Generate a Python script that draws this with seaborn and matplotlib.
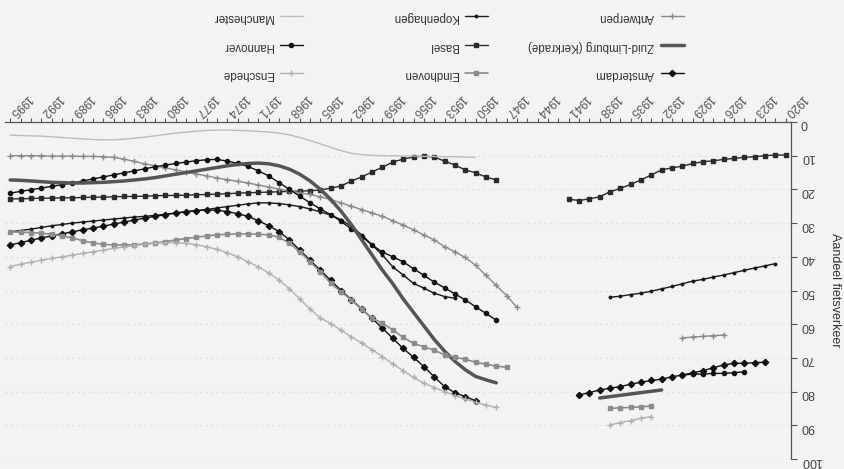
import matplotlib
matplotlib.use("Agg")
import matplotlib.pyplot as plt
from matplotlib.ticker import MultipleLocator
import seaborn as sns

# share of cycling in city traffic (%), read off the (upside-down) scan
# --- before the war ---
basel_pre_years = list(range(1920, 1942))
basel_pre = [9.8, 9.8, 10.0, 10.3, 10.5, 10.8, 11.1, 11.5, 11.8, 12.3, 13.1,
             13.6, 14.2, 15.7, 17.2, 18.5, 19.7, 20.7, 22.2, 22.8, 23.3, 22.9]
kopenhagen_pre_years = list(range(1921, 1938))
kopenhagen_pre = [42.0, 42.7, 43.3, 44.0, 44.7, 45.4, 46.0, 46.7, 47.2, 48.0,
                  48.8, 49.5, 50.2, 50.8, 51.2, 51.7, 52.0]
antwerpen_pre_years = list(range(1926, 1931))
antwerpen_pre = [63.2, 63.4, 63.6, 63.8, 64.1]
amsterdam_pre_years = list(range(1922, 1941))
amsterdam_pre = [71.3, 71.4, 71.6, 71.6, 72.1, 72.9, 73.8, 74.4, 75.1, 75.6,
                 76.3, 76.7, 77.2, 77.8, 78.5, 79.0, 79.5, 80.3, 81.0]
hannover_pre_years = list(range(1924, 1931))
hannover_pre = [74.1, 74.4, 74.6, 74.6, 74.8, 74.8, 75.1]
zuidlimburg_pre_years = list(range(1932, 1939))
zuidlimburg_pre = [79.5, 79.9, 80.3, 80.7, 81.1, 81.5, 81.9]
eindhoven_pre_years = list(range(1933, 1938))
eindhoven_pre = [84.3, 84.5, 84.7, 84.8, 85.0]
enschede_pre_years = list(range(1933, 1938))
enschede_pre = [87.4, 87.9, 88.6, 89.2, 89.9]

# --- after the war ---
antwerpen_post_years = list(range(1946, 1996))
antwerpen_post = [55.0, 51.5, 48.5, 45.5, 42.5, 40.2, 38.5, 37.0, 35.0, 33.5,
                  32.0, 30.6, 29.3, 28.0, 27.0, 26.0, 25.0, 24.0, 23.0, 22.2,
                  21.5, 21.0, 20.4, 19.9, 19.3, 18.7, 18.1, 17.6, 17.1, 16.6,
                  16.0, 15.4, 14.8, 14.2, 13.6, 13.0, 12.4, 11.7, 11.0, 10.5,
                  10.3, 10.2, 10.2, 10.1, 10.1, 10.1, 10.0, 10.0, 10.0, 10.0]
basel_post_years = list(range(1948, 1996))
basel_post = [17.2, 16.3, 15.1, 14.2, 12.8, 11.6, 10.4, 10.1, 10.4, 11.0,
              11.9, 13.4, 14.8, 16.3, 17.5, 19.0, 19.6, 20.2, 20.4, 20.5,
              20.6, 20.7, 20.8, 20.9, 21.0, 21.1, 21.3, 21.4, 21.5, 21.6,
              21.7, 21.8, 21.8, 21.9, 22.0, 22.1, 22.1, 22.2, 22.3, 22.3,
              22.4, 22.5, 22.5, 22.6, 22.6, 22.7, 22.8, 22.8]
manchester_years = list(range(1950, 1996))
manchester = [10.5, 10.4, 10.3, 10.3, 10.2, 10.2, 10.1, 10.1, 10.0, 10.0,
              9.9, 9.7, 9.3, 8.5, 7.5, 6.5, 5.5, 4.6, 3.8, 3.3,
              3.0, 2.8, 2.6, 2.5, 2.4, 2.4, 2.5, 2.7, 3.0, 3.3,
              3.7, 4.1, 4.5, 4.8, 5.1, 5.3, 5.3, 5.2, 5.0, 4.8,
              4.6, 4.4, 4.2, 4.1, 4.0, 3.9]
hannover_post_years = list(range(1948, 1996))
hannover_post = [58.8, 56.8, 54.8, 52.8, 51.0, 49.2, 47.5, 45.5, 43.5, 41.5,
                 40.0, 38.6, 36.5, 34.0, 31.8, 29.5, 27.5, 25.8, 24.0, 22.0,
                 20.0, 18.0, 16.0, 14.5, 13.2, 12.3, 11.6, 11.1, 11.2, 11.5,
                 11.9, 12.3, 12.8, 13.3, 13.9, 14.5, 15.1, 15.7, 16.3, 16.9,
                 17.5, 18.1, 18.6, 19.1, 19.6, 20.1, 20.6, 21.1]
kopenhagen_post_years = list(range(1952, 1996))
kopenhagen_post = [52.3, 51.8, 50.8, 49.3, 47.9, 45.4, 43.0, 39.5, 36.5, 33.5,
                   31.0, 29.0, 27.6, 26.7, 25.8, 25.1, 24.6, 24.2, 24.0, 24.0,
                   24.3, 24.7, 25.1, 25.5, 26.0, 26.3, 26.7, 27.0, 27.4, 27.7,
                   28.0, 28.2, 28.5, 28.8, 29.1, 29.4, 29.7, 30.0, 30.4, 30.8,
                   31.3, 31.8, 32.2, 32.6]
amsterdam_post_years = list(range(1950, 1996))
amsterdam_post = [82.7, 81.5, 80.3, 78.5, 75.6, 72.6, 69.8, 67.2, 64.2, 61.2,
                  58.3, 55.5, 52.7, 50.0, 47.0, 44.0, 41.0, 38.0, 35.0, 32.5,
                  30.8, 29.3, 28.0, 27.2, 26.6, 26.2, 26.1, 26.3, 26.6, 27.0,
                  27.5, 28.0, 28.5, 29.1, 29.7, 30.3, 30.9, 31.5, 32.0, 32.6,
                  33.2, 33.8, 34.4, 35.1, 35.8, 36.5]
zuidlimburg_post_years = list(range(1948, 1996))
zuidlimburg_post = [77.4, 76.5, 75.5, 73.5, 71.0, 68.0, 64.5, 60.5, 56.5, 52.5,
                    48.0, 44.0, 39.5, 35.0, 30.5, 26.5, 23.0, 20.0, 17.5, 15.5,
                    14.0, 13.0, 12.4, 12.2, 12.3, 12.6, 13.0, 13.5, 14.0, 14.5,
                    15.0, 15.5, 16.0, 16.5, 16.9, 17.2, 17.5, 17.7, 17.9, 18.0,
                    18.1, 18.1, 18.0, 17.9, 17.7, 17.5, 17.3, 17.2]
eindhoven_post_years = list(range(1947, 1996))
eindhoven_post = [72.8, 72.4, 71.9, 71.3, 70.4, 69.8, 69.1, 67.7, 66.7, 65.7,
                  63.9, 61.7, 59.7, 58.2, 55.6, 52.8, 50.4, 47.9, 44.4, 41.5,
                  38.5, 36.0, 34.2, 33.5, 33.3, 33.2, 33.2, 33.3, 33.5, 33.8,
                  34.2, 34.6, 35.0, 35.5, 35.9, 36.2, 36.4, 36.5, 36.5, 36.3,
                  35.9, 35.2, 34.4, 33.8, 33.3, 33.0, 32.8, 32.7, 32.6]
enschede_post_years = list(range(1948, 1996))
enschede_post = [84.7, 84.0, 83.2, 82.2, 81.2, 80.0, 78.8, 77.5, 75.8, 73.8,
                 71.8, 69.6, 67.6, 65.6, 63.8, 61.8, 59.8, 58.2, 55.5, 52.5,
                 49.5, 46.9, 44.8, 43.0, 41.5, 40.0, 38.8, 37.8, 37.0, 36.4,
                 36.0, 35.8, 35.8, 36.0, 36.3, 36.7, 37.1, 37.5, 38.0, 38.5,
                 39.0, 39.5, 40.0, 40.5, 41.0, 41.6, 42.2, 42.9]

year_ticks = list(range(1920, 1996, 3))

segments = [
    ("Basel", basel_pre_years, basel_pre),
    ("Basel", basel_post_years, basel_post),
    ("Kopenhagen", kopenhagen_pre_years, kopenhagen_pre),
    ("Kopenhagen", kopenhagen_post_years, kopenhagen_post),
    ("Antwerpen", antwerpen_pre_years, antwerpen_pre),
    ("Antwerpen", antwerpen_post_years, antwerpen_post),
    ("Amsterdam", amsterdam_pre_years, amsterdam_pre),
    ("Amsterdam", amsterdam_post_years, amsterdam_post),
    ("Hannover", hannover_pre_years, hannover_pre),
    ("Hannover", hannover_post_years, hannover_post),
    ("Zuid-Limburg (Kerkrade)", zuidlimburg_pre_years, zuidlimburg_pre),
    ("Zuid-Limburg (Kerkrade)", zuidlimburg_post_years, zuidlimburg_post),
    ("Eindhoven", eindhoven_pre_years, eindhoven_pre),
    ("Eindhoven", eindhoven_post_years, eindhoven_post),
    ("Enschede", enschede_pre_years, enschede_pre),
    ("Enschede", enschede_post_years, enschede_post),
    ("Manchester", manchester_years, manchester),
]

styles = {
    "Antwerpen": dict(color="#8a8a8a", lw=1.0, marker="+", ms=5),
    "Zuid-Limburg (Kerkrade)": dict(color="#555555", lw=2.5, marker=None, ms=0),
    "Amsterdam": dict(color="#111111", lw=1.0, marker="D", ms=3.2),
    "Kopenhagen": dict(color="#1a1a1a", lw=1.0, marker="o", ms=1.8),
    "Basel": dict(color="#2b2b2b", lw=1.0, marker="s", ms=3),
    "Eindhoven": dict(color="#8c8c8c", lw=1.2, marker="s", ms=3.5),
    "Manchester": dict(color="#bdbdbd", lw=1.0, marker=None, ms=0),
    "Hannover": dict(color="#111111", lw=1.0, marker="o", ms=3),
    "Enschede": dict(color="#b0b0b0", lw=1.0, marker="+", ms=4.5),
}

sns.set_theme(style="white")
plt.rcParams['font.family'] = ['Liberation Sans', 'DejaVu Sans']

bg = "#f3f3f3"
fig = plt.figure(figsize=(8.44, 4.69), dpi=100, facecolor=bg)
# the scan is upside down: axes are inverted and all text turned 180 degrees
ax = fig.add_axes([5 / 844, 10 / 469, 786 / 844, 337 / 469])
ax.set_facecolor(bg)

seen = set()
for name, yrs, vals in segments:
    st = styles[name]
    lab = name if name not in seen else None
    seen.add(name)
    sns.lineplot(x=yrs, y=vals, ax=ax, color=st["color"], linewidth=st["lw"],
                 marker=st["marker"], markersize=st["ms"], markeredgecolor=st["color"],
                 markerfacecolor=st["color"], markeredgewidth=1.0, label=lab)

if ax.get_legend() is not None:
    ax.get_legend().remove()

ax.set_xlim(1995.5, 1919.5)
ax.set_ylim(100, 0)

ax.spines["left"].set_visible(False)
ax.spines["bottom"].set_visible(False)
for s in ("top", "right"):
    ax.spines[s].set_color("#555555")
    ax.spines[s].set_linewidth(0.9)

ax.set_xticks(year_ticks)
ax.xaxis.set_minor_locator(MultipleLocator(1))
ax.yaxis.set_major_locator(MultipleLocator(10))
ax.tick_params(axis="x", which="both", top=True, bottom=False, labeltop=True,
               labelbottom=False, direction="out", length=3, width=0.8,
               color="#555555", labelsize=8.5, labelcolor="#555555", pad=2)
ax.tick_params(axis="y", left=False, right=True, labelleft=False, labelright=True,
               direction="out", length=4, width=0.8, color="#555555",
               labelsize=9, labelcolor="#444444", pad=3, labelrotation=180)
for lbl in ax.get_xticklabels():
    lbl.set_rotation(225)
    lbl.set_ha("right")
    lbl.set_va("center")
    lbl.set_rotation_mode("anchor")

ax.yaxis.set_label_position("right")
ax.set_ylabel("Aandeel fietsverkeer", rotation=270, fontsize=9, color="#333333",
              labelpad=5, va="bottom")
ax.set_xlabel("")

# faint rows bleeding through the paper
ax.yaxis.grid(True, color="#e0e0e0", linestyle=(0, (2, 3)), linewidth=0.8)
ax.xaxis.grid(False)
ax.set_axisbelow(True)

handles, labels = ax.get_legend_handles_labels()
hmap = dict(zip(labels, handles))
columns = [
    (["Manchester", "Hannover", "Enschede"], 303),
    (["Kopenhagen", "Basel", "Eindhoven"], 488),
    (["Antwerpen", "Zuid-Limburg (Kerkrade)", "Amsterdam"], 684),
]
for names, xr in columns:
    leg = fig.legend([hmap[n] for n in names], names, loc="upper right",
                     bbox_to_anchor=(xr / 844, 1 - 11 / 469), frameon=False,
                     markerfirst=False, fontsize=8.3, handlelength=2.0,
                     handletextpad=0.6, labelspacing=1.45, borderpad=0,
                     borderaxespad=0)
    for t in leg.get_texts():
        t.set_rotation(180)
        t.set_color("#333333")

fig.savefig("out.png", dpi=100, facecolor=bg)
